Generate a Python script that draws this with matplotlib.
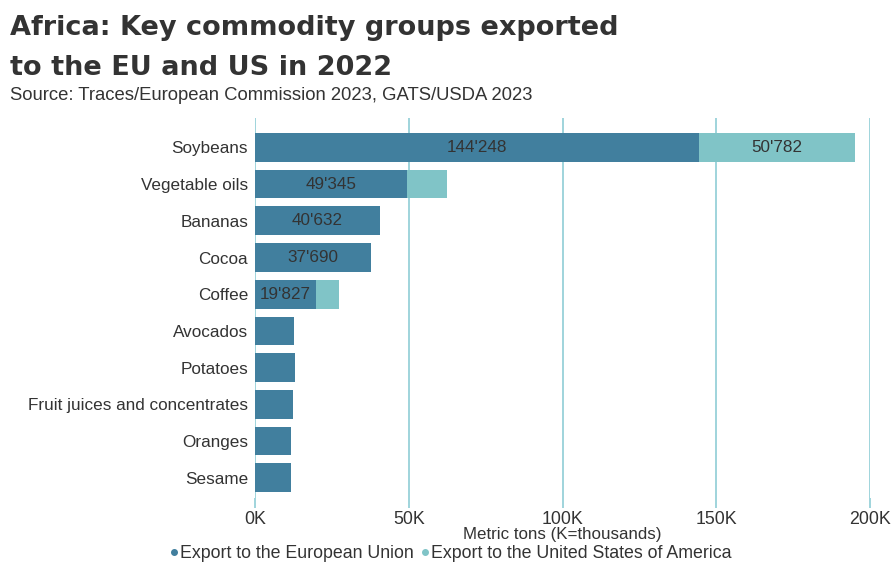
import matplotlib.pyplot as plt
import numpy as np
from matplotlib.lines import Line2D

plt.rcParams['font.family'] = ['Liberation Sans', 'DejaVu Sans']

commodities = ['Soybeans', 'Vegetable oils', 'Bananas', 'Cocoa', 'Coffee',
               'Avocados', 'Potatoes', 'Fruit juices and concentrates',
               'Oranges', 'Sesame']
eu_exports = [144248, 49345, 40632, 37690, 19827, 12700, 12900, 12500, 11800, 11700]
us_exports = [50782, 13000, 0, 0, 7500, 0, 0, 0, 0, 0]
eu_labels = ["144'248", "49'345", "40'632", "37'690", "19'827", '', '', '', '', '']
us_labels = ["50'782", '', '', '', '', '', '', '', '', '']

xticks = [0, 50000, 100000, 150000, 200000]
xticklabels = ['0K', '50K', '100K', '150K', '200K']

eu_color = '#417f9e'
us_color = '#80c4c7'
grid_color = '#8fcdd5'
text_color = '#333333'

fig = plt.figure(figsize=(8.95, 5.64), dpi=100)
ax = fig.add_axes([255 / 895, 1 - 498 / 564, (870 - 255) / 895, (498 - 118) / 564])

y = np.arange(len(commodities))
h = 0.78
bars_eu = ax.barh(y, eu_exports, height=h, color=eu_color, zorder=3)
bars_us = ax.barh(y, us_exports, left=eu_exports, height=h, color=us_color, zorder=3)

for i in range(len(commodities)):
	if eu_labels[i]:
		ax.text(eu_exports[i] / 2, y[i], eu_labels[i], ha='center', va='center',
				fontsize=12.3, color=text_color, zorder=4)
	if us_labels[i]:
		ax.text(eu_exports[i] + us_exports[i] / 2, y[i], us_labels[i], ha='center',
				va='center', fontsize=12.3, color=text_color, zorder=4)

ax.set_ylim(len(commodities) - 0.45, -0.8)
ax.set_xlim(0, 200000)
ax.set_yticks(y)
ax.set_yticklabels(commodities, fontsize=12.3, color=text_color)
ax.set_xticks(xticks)
ax.set_xticklabels(xticklabels, fontsize=12.8, color=text_color)
ax.tick_params(axis='y', length=0, pad=5)
ax.tick_params(axis='x', length=7, color=grid_color, width=1.2, pad=2)
ax.grid(axis='x', color=grid_color, linewidth=1.2, zorder=0)
for s in ax.spines.values():
	s.set_visible(False)
ax.set_xlabel('Metric tons (K=thousands)', fontsize=12.2, color=text_color, labelpad=0)

handles = [Line2D([], [], marker='o', linestyle='', color=eu_color, markersize=4),
		   Line2D([], [], marker='o', linestyle='', color=us_color, markersize=4)]
fig.legend(handles, ['Export to the European Union', 'Export to the United States of America'],
		   loc='center', bbox_to_anchor=(450 / 895, 1 - 554 / 564), ncol=2, frameon=False,
		   fontsize=12.8, labelcolor=text_color, handletextpad=0.05, columnspacing=0.3,
		   handlelength=0.6)

# title in a heavier, wider face than the body text
fig.text(10 / 895, 1 - 35 / 564, 'Africa: Key commodity groups exported', fontsize=19.5,
		 fontweight='bold', family='DejaVu Sans', color=text_color, va='baseline')
fig.text(10 / 895, 1 - 75 / 564, 'to the EU and US in 2022', fontsize=19.5,
		 fontweight='bold', family='DejaVu Sans', color=text_color, va='baseline')
fig.text(10 / 895, 1 - 100 / 564, 'Source: Traces/European Commission 2023, GATS/USDA 2023',
		 fontsize=13.3, color=text_color, va='baseline')

plt.savefig('out.png', dpi=100)
